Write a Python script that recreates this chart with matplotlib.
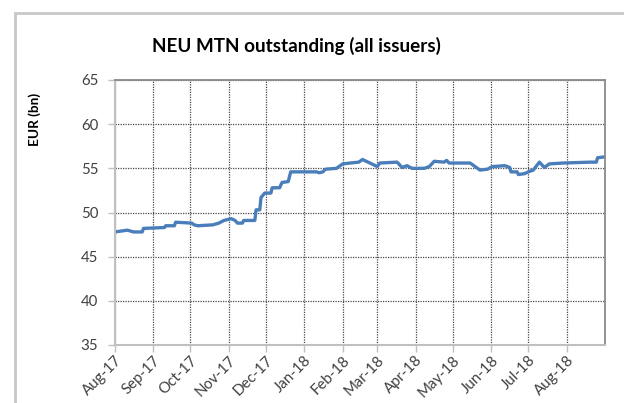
import matplotlib
matplotlib.use('Agg')
import matplotlib.pyplot as plt
import matplotlib.dates as mdates
from matplotlib.patches import Rectangle
import pandas as pd

# ── Data (EUR bn) ──────────────────────────────────────────────────────
DATES = [
    "2017-08-01", "2017-08-11", "2017-08-16", "2017-08-23", "2017-08-24",
    "2017-09-10", "2017-09-11", "2017-09-18", "2017-09-19", "2017-10-02",
    "2017-10-04", "2017-10-07", "2017-10-19", "2017-10-24", "2017-10-28",
    "2017-11-03", "2017-11-06", "2017-11-08", "2017-11-12", "2017-11-13",
    "2017-11-22", "2017-11-23", "2017-11-26", "2017-11-27", "2017-11-30",
    "2017-12-05", "2017-12-06", "2017-12-12", "2017-12-14", "2017-12-19",
    "2017-12-21", "2018-01-11", "2018-01-13", "2018-01-16", "2018-01-18",
    "2018-01-27", "2018-02-01", "2018-02-07", "2018-02-14", "2018-02-17",
    "2018-02-23", "2018-03-01", "2018-03-03", "2018-03-17", "2018-03-21",
    "2018-03-25", "2018-03-29", "2018-04-08", "2018-04-12", "2018-04-16",
    "2018-04-24", "2018-04-26", "2018-04-28", "2018-05-15", "2018-05-19",
    "2018-05-23", "2018-05-29", "2018-06-02", "2018-06-12", "2018-06-16",
    "2018-06-17", "2018-06-22", "2018-06-23", "2018-06-28", "2018-07-01",
    "2018-07-05", "2018-07-10", "2018-07-14", "2018-07-18", "2018-07-29",
    "2018-08-20", "2018-08-25", "2018-08-26", "2018-09-01",
]
VALUES = [
    47.8, 48.0, 47.8, 47.8, 48.2,
    48.3, 48.5, 48.5, 48.9, 48.8,
    48.6, 48.5, 48.6, 48.8, 49.1,
    49.3, 49.1, 48.8, 48.8, 49.1,
    49.1, 50.3, 50.3, 51.7, 52.2,
    52.2, 52.8, 52.8, 53.4, 53.5,
    54.6, 54.6, 54.5, 54.6, 54.9,
    55.0, 55.5, 55.6, 55.7, 56.0,
    55.6, 55.2, 55.6, 55.7, 55.1,
    55.3, 55.0, 55.0, 55.2, 55.8,
    55.7, 55.9, 55.6, 55.6, 55.2,
    54.8, 54.9, 55.2, 55.3, 55.1,
    54.6, 54.6, 54.3, 54.4, 54.6,
    54.8, 55.7, 55.1, 55.5, 55.6,
    55.7, 55.7, 56.2, 56.3,
]
Y_TICKS = [35, 40, 45, 50, 55, 60, 65]
X_START, X_END = "2017-08-01", "2018-09-01"

TITLE = "NEU MTN outstanding (all issuers)"
Y_LABEL = "EUR (bn)"

plt.rcParams['font.family'] = ['Lato', 'DejaVu Sans']

dates = pd.to_datetime(DATES)

fig = plt.figure(figsize=(6.24, 4.03), dpi=100)
fig.patch.set_facecolor('white')

# outer chart-area frame (only top and left edges visible)
fig.patches.append(Rectangle((15 / 624, -0.1), 1.2, 1 - 13 / 403 + 0.1,
                             transform=fig.transFigure, fill=False,
                             edgecolor='#c8c8c8', linewidth=2))

ax = fig.add_axes([115 / 624, 1 - 345 / 403, 490 / 624, 265 / 403])

ax.plot(dates, VALUES, color='#4a7ebb', linewidth=2.4, solid_joinstyle='round')

ax.set_xlim(pd.Timestamp(X_START), pd.Timestamp(X_END))
ax.set_ylim(Y_TICKS[0], Y_TICKS[-1])
ax.set_yticks(Y_TICKS)

ax.xaxis.set_major_locator(mdates.MonthLocator())
ax.xaxis.set_major_formatter(mdates.DateFormatter('%b-%y'))
ticks = ax.get_xticks()
ax.set_xticks(ticks[:-1])  # no label at the right edge

ax.grid(True, color='#4a4a4a', linestyle=(0, (1, 1)), linewidth=0.9)
ax.set_axisbelow(True)

for side in ['left', 'bottom']:
    ax.spines[side].set_color('#c0c0c0')
    ax.spines[side].set_linewidth(1.5)
for side in ['right', 'top']:
    ax.spines[side].set_color('#8a8a8a')
    ax.spines[side].set_linewidth(1.3)

ax.tick_params(axis='both', colors='#c0c0c0', labelcolor='#404040',
               labelsize=10.8, length=5, width=1)
ax.tick_params(axis='y', pad=7)
ax.tick_params(axis='x', pad=1)
for lbl in ax.get_xticklabels():
    lbl.set_rotation(45)
    lbl.set_ha('right')
    lbl.set_rotation_mode('anchor')

fig.text(296 / 624, 1 - 46 / 403, TITLE, ha='center', va='center',
         fontsize=13.6, fontweight='bold', color='#000000')
fig.text(35 / 624, 1 - 119 / 403, Y_LABEL, ha='center', va='center',
         rotation=90, fontsize=9.8, fontweight='bold', color='#000000')

fig.savefig('out.png', dpi=100)
